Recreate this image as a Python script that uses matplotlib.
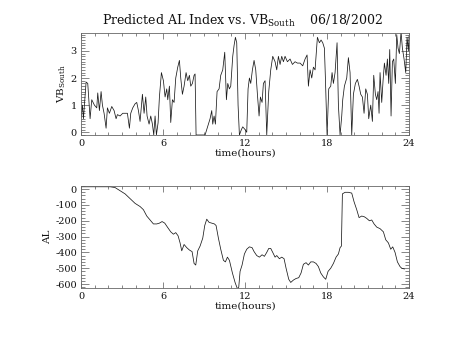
import matplotlib
matplotlib.use('Agg')
import matplotlib.pyplot as plt
from matplotlib.ticker import MultipleLocator, FixedLocator
import numpy as np

plt.rcParams['font.family'] = 'DejaVu Serif'
plt.rcParams['mathtext.fontset'] = 'dejavuserif'
plt.rcParams['axes.unicode_minus'] = False

# pixel-grid samples (x in 1/41 hour units from the left axis)
vb_x = [243, 247, 250, 254, 258, 263, 270, 275, 283, 290, 293, 298, 303, 307, 312, 318,
        322, 328, 335, 342, 348, 352, 360, 368, 375, 382, 388, 392, 398, 405, 410, 415,
        420, 427, 432, 437, 441, 447, 452, 457, 461, 465, 469, 474, 478, 484, 490, 495,
        500, 503, 508, 512, 517, 522, 527, 533, 538, 542, 547, 552, 558, 563, 568, 572,
        577, 582, 585, 588, 595, 605, 615, 620, 625, 630, 635, 638, 642, 646, 651, 657,
        662, 668, 674, 679, 683, 688, 692, 698, 702, 706, 710, 714, 718, 724, 728, 735,
        740, 744, 748, 752, 757, 762, 767, 772, 777, 781, 786, 790, 795, 800, 806, 812,
        818, 825, 830, 835, 840, 845, 850, 855, 862, 870, 877, 885, 892, 900, 908, 915,
        921, 925, 930, 935, 940, 945, 948, 952, 958, 963, 968, 973, 976, 981, 986, 992,
        996, 1000, 1005, 1011, 1015, 1020, 1025, 1028, 1033, 1040, 1045, 1050, 1055, 1060,
        1066, 1072, 1077, 1082, 1087, 1092, 1097, 1102, 1106, 1112, 1117, 1121, 1126, 1130,
        1134, 1137, 1140, 1145, 1149, 1153, 1158, 1162, 1166, 1169, 1173, 1177, 1181, 1186,
        1190, 1194, 1198, 1203, 1207, 1212, 1217, 1221, 1225, 1227]
vb_south = [0.55, 1.0, 0.5, 1.2, 1.85, 1.8, 0.5, 1.2, 1.0, 0.9, 1.45, 0.8, 1.5, 1.0, 0.7, 0.15,
            0.9, 0.7, 0.95, 0.8, 0.5, 0.65, 0.6, 0.7, 0.7, 0.7, 0.15, 0.7, 0.9, 1.05, 1.1, 0.8,
            0.4, 1.4, 0.7, 1.3, 0.6, 0.3, 0.6, 0.3, -0.1, 0.6, -0.1, 0.35, 1.3, 2.2, 1.9, 1.3,
            1.6, 1.2, 1.7, 0.36, 1.2, 1.1, 2.0, 2.4, 2.65, 2.0, 1.4, 1.7, 2.2, 1.9, 2.1, 1.7,
            1.8, 2.1, 2.15, -0.1, -0.1, -0.1, -0.1, 0.1, 0.3, 0.5, 0.8, 0.3, 0.6, 0.3, 1.5, 1.6,
            2.1, 2.3, 2.95, 1.2, 1.8, 1.6, 1.7, 2.8, 3.2, 3.5, 3.3, 1.0, -0.1, 0.1, 0.2, 0.1,
            0.0, 1.6, 2.0, 1.8, 2.3, 2.65, 2.3, 1.4, 0.6, 1.3, 1.1, 1.8, 1.9, -0.1, 1.5, 2.3,
            2.8, 2.6, 2.3, 2.8, 2.5, 2.8, 2.6, 2.8, 2.6, 2.7, 2.5, 2.6, 2.55, 2.55, 2.45, 2.7,
            2.85, 1.7, 2.3, 2.0, 2.4, 2.3, 2.8, 3.5, 3.3, 3.4, 3.3, 3.1, 2.0, -0.1, 1.6, 1.7,
            2.2, 1.8, 2.2, 3.3, 1.0, -0.1, 0.6, 1.2, 1.7, 2.0, 2.75, 2.2, -0.1, 1.4,
            1.8, 1.95, 1.7, 1.4, 1.3, 0.7, 1.6, 1.4, 0.5, 1.0, 0.4, 2.1, 1.4, 1.2,
            1.5, 0.7, 2.2, 1.1, 1.9, 2.55, 2.1, 2.7, 1.8, 3.05, 0.6, 2.6, 2.7, 1.8,
            3.6, 3.1, 2.9, 3.7, 3.1, 2.7, 2.2, 3.5, 3.0, 3.55]

al_x = [243, 270, 300, 330, 345, 360, 375, 390, 405, 420, 430, 440, 450, 460, 470, 478,
        486, 494, 502, 512, 520, 527, 534, 540, 545, 552, 560, 568, 576, 582, 587, 593,
        600, 608, 614, 620, 627, 635, 643, 648, 655, 662, 670, 676, 682, 688, 697, 705,
        712, 716, 720, 726, 733, 740, 748, 756, 762, 770, 778, 786, 793, 800, 806, 812,
        818, 825, 830, 838, 845, 852, 858, 866, 872, 880, 888, 896, 903, 910, 918, 925,
        932, 940, 948, 955, 962, 970, 977, 984, 992, 1000, 1008, 1015, 1020, 1024, 1027,
        1035, 1045, 1055, 1062, 1070, 1077, 1085, 1093, 1100, 1108, 1115, 1122, 1130, 1140,
        1150, 1157, 1165, 1172, 1178, 1185, 1192, 1200, 1205, 1213]
al_index = [15, 15, 15, 15, 10, -10, -30, -60, -90, -110, -130, -170, -195, -220, -220, -215,
            -205, -215, -240, -270, -285, -275, -295, -340, -390, -350, -370, -385, -395, -470, -480, -390,
            -360, -310, -230, -190, -210, -215, -220, -230, -310, -380, -450, -460, -430, -450, -530, -590,
            -630, -620, -520, -480, -410, -380, -365, -370, -395, -420, -430, -415, -425, -400, -375, -375,
            -400, -430, -420, -440, -430, -440, -500, -570, -590, -575, -565, -560, -530, -475, -465, -480,
            -460, -460, -470, -490, -530, -555, -570, -520, -500, -470, -430, -410, -370, -360, -30,
            -20, -20, -25, -80, -130, -180, -170, -175, -185, -200, -195, -220, -240, -250,
            -270, -320, -340, -380, -365, -400, -460, -490, -500, -505]

vb_t = (np.array(vb_x) - 243) / 41.0
al_t = (np.array(al_x) - 243) / 41.0

fig = plt.figure(figsize=(4.53, 3.4), dpi=100)
ax1 = fig.add_axes([0.179, 0.603, 0.724, 0.300])
ax2 = fig.add_axes([0.179, 0.153, 0.724, 0.300])

fs = 7

def style(ax, ylen, xlen):
    ax.tick_params(which='both', direction='in', top=True, right=True,
                   labelsize=fs, width=0.5, colors='#555555', labelcolor='#111111', pad=3)
    ax.tick_params(axis='y', which='major', length=ylen)
    ax.tick_params(axis='y', which='minor', length=ylen * 0.5)
    ax.tick_params(axis='x', which='major', length=xlen)
    ax.tick_params(axis='x', which='minor', length=xlen * 0.5)
    for s in ax.spines.values():
        s.set_linewidth(0.6)
        s.set_color('#666666')
    ax.set_xlim(0, 24)
    ax.xaxis.set_major_locator(FixedLocator([0, 6, 12, 18, 24]))
    ax.xaxis.set_minor_locator(MultipleLocator(1))
    ax.set_xlabel('time(hours)', fontsize=fs + 0.5, labelpad=0, color='#111111')

ax1.plot(vb_t, vb_south, color='#1a1a1a', lw=0.55)
ax1.set_ylim(-0.1, 3.66)
ax1.yaxis.set_major_locator(FixedLocator([0, 1, 2, 3]))
ax1.yaxis.set_minor_locator(MultipleLocator(0.1))
style(ax1, 6, 4)
ax1.set_ylabel(r'VB$_{\mathrm{South}}$', fontsize=fs + 0.5, labelpad=2, color='#111111')

ax2.plot(al_t, al_index, color='#1a1a1a', lw=0.55)
ax2.set_ylim(-625, 20)
ax2.yaxis.set_major_locator(FixedLocator([0, -100, -200, -300, -400, -500, -600]))
ax2.yaxis.set_minor_locator(MultipleLocator(20))
style(ax2, 6, 4)
ax2.set_ylabel('AL', fontsize=fs + 0.5, labelpad=2, color='#111111')

fig.text(0.535, 0.915, r'Predicted AL Index vs. VB$_{\mathrm{South}}$    06/18/2002',
         ha='center', va='bottom', fontsize=fs + 2, color='#111111')

fig.savefig('out.png', dpi=100)
